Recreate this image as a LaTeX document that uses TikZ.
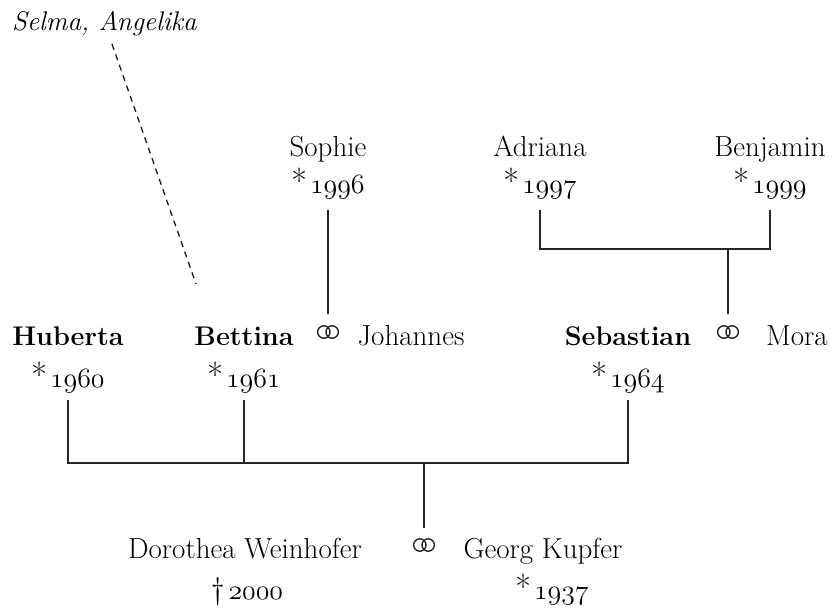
\documentclass[tikz,border=0pt]{standalone}
\usepackage{fontspec}
\usepackage{graphicx}
\newcommand{\osn}[1]{\scalebox{1.12}{\fontsize{24.88}{30}\usefont{OML}{cmm}{m}{it}#1}}
\newcommand{\bornmark}{{\fontsize{34}{36}\selectfont*}\hspace{3pt}}
\newcommand{\diedmark}{{\fontsize{31}{36}\selectfont\textdagger}\hspace{4pt}}
\usetikzlibrary{calc}
\begin{document}
\begin{tikzpicture}[x=1pt,y=-1pt,
  every node/.style={inner sep=0pt},
  txt/.style={font=\fontsize{29}{32}\selectfont, anchor=base},
  bold/.style={font=\fontsize{27}{32}\selectfont\bfseries, anchor=base},
  ital/.style={font=\fontsize{27}{32}\selectfont\itshape, anchor=base west},
  ring/.style={minimum width=24pt, minimum height=16pt, anchor=center,
    path picture={
      \draw[line width=1.4pt, black!85] ([xshift=-4.2pt]path picture bounding box.center) circle[radius=6.2pt];
      \draw[line width=1.4pt, black!85] ([xshift=4.2pt]path picture bounding box.center) circle[radius=6.2pt];
    }},
  link/.style={line width=1.1pt, draw=black!85},
  dashlink/.style={line width=1.3pt, draw=black!90, dash pattern=on 6pt off 5pt}
]
\useasboundingbox (0,0) rectangle (836,612);
% generation 3
\node[ital] (selma) at (12,31) {Selma, Angelika};
\node[txt] (sophie) at (328,157) {Sophie};
\node[txt] (y1996) at (328,194) {\bornmark\osn{1996}};
\node[txt] (adriana) at (540,157) {Adriana};
\node[txt] (y1997) at (540,194) {\bornmark\osn{1997}};
\node[txt] (benjamin) at (770,157) {Benjamin};
\node[txt] (y1999) at (770,194) {\bornmark\osn{1999}};
% generation 2
\node[bold] (huberta) at (68,346) {Huberta};
\node[txt] (y1960) at (68,388) {\bornmark\osn{1960}};
\node[bold] (bettina) at (244,346) {Bettina};
\node[txt] (y1961) at (244,388) {\bornmark\osn{1961}};
\node[ring] (r1) at (328,332) {};
\node[txt] (johannes) at (411,346) {Johannes};
\node[bold] (sebastian) at (628,346) {Sebastian};
\node[txt] (y1964) at (628,388) {\bornmark\osn{1964}};
\node[ring] (r2) at (728,332) {};
\node[txt] (mora) at (797,346) {Mora};
% generation 1
\node[txt] (dorothea) at (245,558) {Dorothea Weinhofer};
\node[txt] (y2000) at (247,599) {\diedmark\osn{2000}};
\node[ring] (r3) at (424,545) {};
\node[txt] (georg) at (543,558) {Georg Kupfer};
\node[txt] (y1937) at (552,599) {\bornmark\osn{1937}};
% connectors
\coordinate (ds) at (112,44);
\coordinate (de) at (196,284);
\draw[dashlink] (ds) -- (de);
\draw[link] (r1.north |- 0,210) -- (r1.north |- 0,314);
\coordinate (j2) at (r2.north |- 0,249);
\draw[link] (y1997.south |- 0,210) |- (j2) -| (y1999.south |- 0,210);
\draw[link] (j2) -- (r2.north |- 0,314);
\coordinate (j1) at (r3.north |- 0,463);
\draw[link] (huberta.south |- 0,400) |- (j1) -| (sebastian.south |- 0,400);
\draw[link] (bettina.south |- 0,400) -- (bettina.south |- j1);
\draw[link] (j1) -- (r3.north |- 0,528);
\end{tikzpicture}
\end{document}
